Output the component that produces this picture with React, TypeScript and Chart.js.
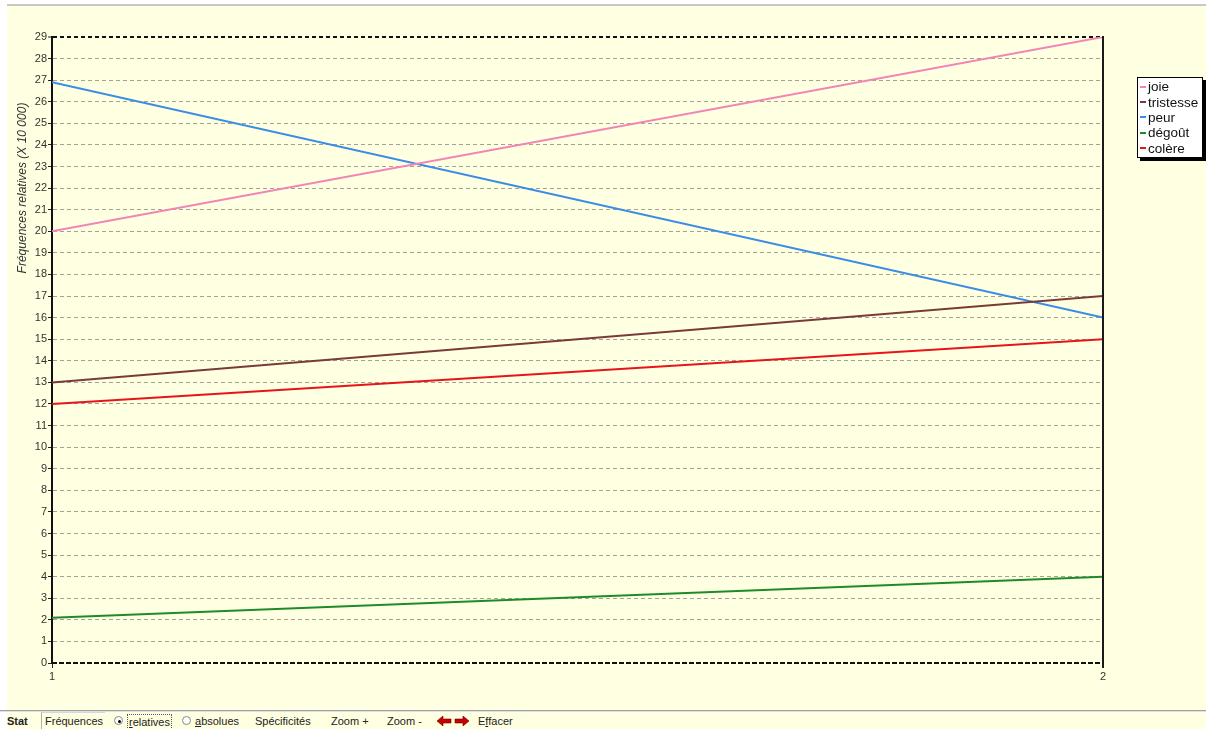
import React, { useEffect, useRef } from "react";
import { Chart, registerables } from "chart.js";

Chart.register(...registerables);

// ---- data ----
const xValues = [1, 2];
const seriesNames = ["joie", "tristesse", "peur", "dégoût", "colère"];
const joie = [20, 29];
const tristesse = [13, 17];
const peur = [26.9, 16];
const degout = [2.1, 4];
const colere = [12, 15];
const seriesValues = [joie, tristesse, peur, degout, colere];
const seriesColors = ["#f285b6", "#7a3a3a", "#3a8ce6", "#1f8a2a", "#e8141a"];
const yMin = 0;
const yMax = 29;
const yAxisTitle = "Fréquences relatives (X 10 000)";

const FONT = '"Liberation Sans", Arial, sans-serif';

const decorPlugin = {
  id: "decor",
  afterDraw(chart: any) {
    const { ctx, chartArea: a } = chart;
    ctx.save();
    // right frame line
    ctx.strokeStyle = "#1a1a1a";
    ctx.lineWidth = 2;
    ctx.beginPath();
    ctx.moveTo(a.right, a.top - 1);
    ctx.lineTo(a.right, a.bottom + 5);
    ctx.stroke();
    // bottom dashed axis line
    ctx.strokeStyle = "#111";
    ctx.lineWidth = 2;
    ctx.setLineDash([5, 2]);
    ctx.beginPath();
    ctx.moveTo(a.left, a.bottom);
    ctx.lineTo(a.right, a.bottom);
    ctx.stroke();
    ctx.setLineDash([]);
    // y title
    ctx.translate(23, 188);
    ctx.rotate(-Math.PI / 2);
    ctx.font = `italic 12px ${FONT}`;
    ctx.fillStyle = "#333";
    ctx.textAlign = "center";
    ctx.textBaseline = "middle";
    ctx.fillText(yAxisTitle, 0, 0);
    ctx.restore();
  },
};

function ChartCanvas() {
  const ref = useRef<HTMLCanvasElement | null>(null);
  useEffect(() => {
    if (!ref.current) return;
    const chart = new Chart(ref.current, {
      type: "line",
      data: {
        datasets: seriesNames.map((name, i) => ({
          label: name,
          data: xValues.map((x, j) => ({ x, y: seriesValues[i][j] })),
          borderColor: seriesColors[i],
          backgroundColor: seriesColors[i],
          borderWidth: 2,
          pointRadius: 0,
          tension: 0,
          fill: false,
        })),
      },
      options: {
        animation: false,
        responsive: false,
        maintainAspectRatio: false,
        events: [],
        layout: { padding: { top: 37, right: 103, left: 0, bottom: 0 } },
        plugins: {
          legend: { display: false },
          tooltip: { enabled: false },
          title: { display: false },
        },
        scales: {
          x: {
            type: "linear",
            min: 1,
            max: 2,
            afterFit: (s: any) => {
              s.height = 42;
            },
            ticks: {
              stepSize: 1,
              color: "#333",
              font: { family: FONT, size: 11 },
              padding: 2,
              maxRotation: 0,
            },
            grid: {
              display: true,
              drawOnChartArea: false,
              drawTicks: true,
              tickLength: 5,
              tickColor: "#222",
              tickWidth: 1,
            },
            border: { display: false },
          },
          y: {
            type: "linear",
            min: yMin,
            max: yMax,
            afterFit: (s: any) => {
              s.width = 52;
            },
            ticks: {
              stepSize: 1,
              color: "#333",
              font: { family: FONT, size: 11 },
              padding: 1,
            },
            grid: {
              display: true,
              color: (c: any) => (c.tick && c.tick.value === yMax ? "#111" : "#a3a395"),
              lineWidth: (c: any) => (c.tick && c.tick.value === yMax ? 2 : 1),
              drawTicks: true,
              tickLength: 4,
              tickColor: "#222",
              tickWidth: 1,
              tickBorderDash: [],
            },
            border: { display: true, color: "#111", width: 2, dash: [4, 3] },
          },
        },
      },
      plugins: [decorPlugin],
    } as any);
    return () => chart.destroy();
  }, []);
  return (
    <canvas
      ref={ref}
      width={1206}
      height={705}
      style={{ position: "absolute", left: 0, top: 0, width: 1206, height: 705 }}
    />
  );
}

function Legend() {
  return (
    <div
      style={{
        position: "absolute",
        left: 1137,
        top: 77,
        width: 66,
        background: "#fff",
        border: "1px solid #000",
        boxShadow: "3px 3px 0 #000",
        padding: "1px 0 1px 2px",
        fontFamily: FONT,
        fontSize: 13.5,
        color: "#111",
        boxSizing: "border-box",
      }}
    >
      {seriesNames.map((name, i) => (
        <div key={name} style={{ display: "flex", alignItems: "center", height: 15.4, whiteSpace: "nowrap" }}>
          <span
            style={{
              display: "inline-block",
              width: 6,
              height: 2,
              background: seriesColors[i],
              marginRight: 2,
            }}
          />
          <span>{name}</span>
        </div>
      ))}
    </div>
  );
}

function Toolbar() {
  const base: React.CSSProperties = {
    position: "absolute",
    top: 713,
    height: 16,
    lineHeight: "16px",
    fontFamily: FONT,
    fontSize: 11,
    color: "#222",
    whiteSpace: "nowrap",
  };
  const radio = (left: number, checked: boolean) => (
    <div
      style={{
        position: "absolute",
        left,
        top: 716,
        width: 9,
        height: 9,
        borderRadius: "50%",
        border: "1px solid #888",
        background: "#fff",
        boxSizing: "border-box",
      }}
    >
      {checked && (
        <div
          style={{
            position: "absolute",
            left: 2.5,
            top: 2.5,
            width: 3,
            height: 3,
            borderRadius: "50%",
            background: "#000",
          }}
        />
      )}
    </div>
  );
  return (
    <>
      <span style={{ ...base, left: 7, fontWeight: "bold" }}>Stat</span>
      <span
        style={{
          ...base,
          left: 41,
          paddingLeft: 3,
          width: 60,
          borderLeft: "1px solid #b0b0b0",
          borderTop: "1px solid #d8d8d8",
          top: 712,
        }}
      >
        Fréquences
      </span>
      {radio(114, true)}
      <span style={{ ...base, left: 127, top: 714, height: 14, lineHeight: "14px", border: "1px dotted #555", padding: "0 1px" }}>
        <u>r</u>elatives
      </span>
      {radio(182, false)}
      <span style={{ ...base, left: 195 }}>
        <u>a</u>bsolues
      </span>
      <span style={{ ...base, left: 255 }}>Spécificités</span>
      <span style={{ ...base, left: 331 }}>Zoom +</span>
      <span style={{ ...base, left: 387 }}>Zoom -</span>
      <svg
        style={{ position: "absolute", left: 437, top: 716 }}
        width={32}
        height={10}
        viewBox="0 0 32 10"
      >
        <polygon points="0,5 6,0 6,3 14,3 14,7 6,7 6,10" fill="#c80000" stroke="#600" strokeWidth={0.6} />
        <polygon points="32,5 26,0 26,3 18,3 18,7 26,7 26,10" fill="#c80000" stroke="#600" strokeWidth={0.6} />
      </svg>
      <span style={{ ...base, left: 478 }}>
        E<u>f</u>facer
      </span>
    </>
  );
}

export default function App() {
  return (
    <div
      style={{
        position: "absolute",
        left: 0,
        top: 0,
        width: 1206,
        height: 729,
        background: "#fff",
        overflow: "hidden",
      }}
    >
      <div style={{ position: "absolute", left: 7, top: 4, width: 1199, height: 2, background: "#c8c8c8" }} />
      <div style={{ position: "absolute", left: 7, top: 6, width: 1199, height: 723, background: "#ffffe1" }} />
      <div style={{ position: "absolute", left: 0, top: 710, width: 1206, height: 1, background: "#a0a0a0" }} />
      <div style={{ position: "absolute", left: 0, top: 711, width: 1206, height: 1, background: "#e0e0e0" }} />
      <ChartCanvas />
      <Legend />
      <Toolbar />
    </div>
  );
}
